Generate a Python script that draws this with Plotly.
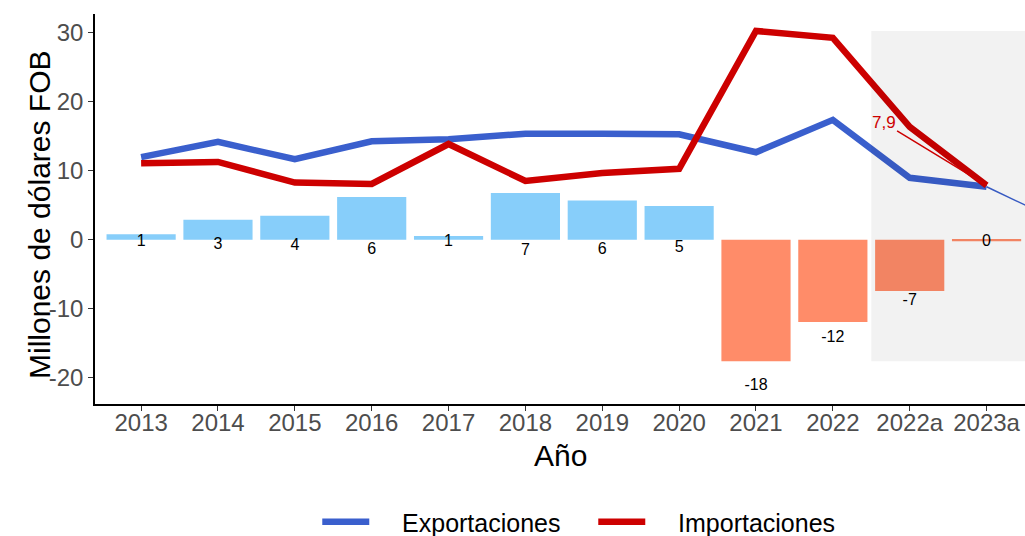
import plotly.graph_objects as go

YEARS = ["2013", "2014", "2015", "2016", "2017", "2018", "2019", "2020", "2021", "2022", "2022a", "2023a"]
EXPORTS = [12.0, 14.2, 11.7, 14.3, 14.6, 15.4, 15.4, 15.3, 12.7, 17.4, 9.0, 7.7]
IMPORTS = [11.1, 11.3, 8.3, 8.1, 13.9, 8.55, 9.7, 10.3, 30.3, 29.3, 16.4, 7.9]
BALANCE = [0.8, 2.9, 3.5, 6.2, 0.55, 6.8, 5.7, 4.9, -17.6, -11.9, -7.4, -0.2]
BALANCE_LABELS = ["1", "3", "4", "6", "1", "7", "6", "5", "-18", "-12", "-7", "0"]
Y_TICKS = [-20, -10, 0, 10, 20, 30]
# segment of the (clipped) export label that runs off the panel
EXPORT_LABEL_SEGMENT = [7.7, 2.4]

BLUE = "#3A5FCD"
RED = "#CD0000"
SKY = "#87CEFA"
SALMON = "#FF8C69"
FONT = "Liberation Sans, Arial, sans-serif"
NB = "&nbsp;"

xs = list(range(len(YEARS)))

fig = go.Figure()

# trade balance bars
fig.add_trace(go.Bar(
    x=xs, y=BALANCE, width=0.9,
    marker_color=[SKY if v >= 0 else SALMON for v in BALANCE],
    marker_line_width=0,
    showlegend=False, hoverinfo="skip",
))

# bar labels under the bars
label_y = [v * 1.2 if v < 0 else -0.22 * v - 0.15 for v in BALANCE]
fig.add_trace(go.Scatter(
    x=xs, y=label_y, mode="text", text=BALANCE_LABELS,
    textfont=dict(size=16, color="black", family=FONT),
    showlegend=False, hoverinfo="skip",
))

# thin export label segment (label itself falls outside the panel)
fig.add_trace(go.Scatter(
    x=[xs[-1], xs[-1] + 1], y=EXPORT_LABEL_SEGMENT, mode="lines",
    line=dict(color=BLUE, width=1.5), showlegend=False, hoverinfo="skip",
))

fig.add_trace(go.Scatter(
    x=xs, y=EXPORTS, mode="lines", name=NB * 4 + "Exportaciones" + NB * 4,
    line=dict(color=BLUE, width=6.5),
))
fig.add_trace(go.Scatter(
    x=xs, y=IMPORTS, mode="lines", name=NB * 4 + "Importaciones",
    line=dict(color=RED, width=6.5),
))

# shaded forecast area (2022a onwards)
fig.add_shape(
    type="rect", xref="x", yref="y",
    x0=YEARS.index("2022a") - 0.5, x1=12, y0=min(BALANCE), y1=max(IMPORTS),
    fillcolor="rgba(0,0,0,0.05)", line_width=0, layer="above",
)

fig.add_annotation(
    x=xs[-1], y=IMPORTS[-1], ax=9.66, ay=17.0, axref="x", ayref="y",
    text="7,9", showarrow=True, arrowhead=0, arrowwidth=1.5, arrowcolor=RED,
    font=dict(size=17, color=RED, family=FONT),
)

# axis titles
fig.add_annotation(
    text="Millones de dólares FOB", xref="paper", yref="paper",
    x=-0.059, y=0.485, xanchor="center", yanchor="middle", textangle=-90,
    showarrow=False, font=dict(size=30, color="black"),
)
fig.add_annotation(
    text="Año", xref="paper", yref="paper",
    x=0.5, y=-0.131, xanchor="center", yanchor="middle",
    showarrow=False, font=dict(size=30, color="black"),
)

fig.update_layout(
    width=1025, height=536,
    paper_bgcolor="white", plot_bgcolor="white",
    font=dict(family=FONT, color="black"),
    margin=dict(l=95, r=0, t=14, b=132),
    bargap=0.1,
    xaxis=dict(
        range=[-0.6, 11.5], tickvals=xs, ticktext=YEARS,
        showgrid=False, zeroline=False, automargin=False,
        showline=True, linecolor="black", linewidth=1.5,
        ticks="outside", ticklen=5, tickcolor="#333333",
        tickfont=dict(size=24, color="#4D4D4D"), ticklabelstandoff=-9,
    ),
    yaxis=dict(
        range=[-23.8, 32.75], tickvals=Y_TICKS, ticktext=[str(t) for t in Y_TICKS],
        showgrid=False, zeroline=False, automargin=False,
        showline=True, linecolor="black", linewidth=1.5,
        ticks="outside", ticklen=5, tickcolor="#333333",
        tickfont=dict(size=24, color="#4D4D4D"),
    ),
    legend=dict(
        orientation="h", x=0.239, xanchor="left",
        yref="container", y=0.0261, yanchor="middle",
        font=dict(size=25, color="black"), itemwidth=47,
    ),
)

# drop the default page margin so the figure fills the window exactly
fig.write_html(
    "out.html",
    config={"displayModeBar": False},
    post_script="document.body.style.margin='0';",
)
